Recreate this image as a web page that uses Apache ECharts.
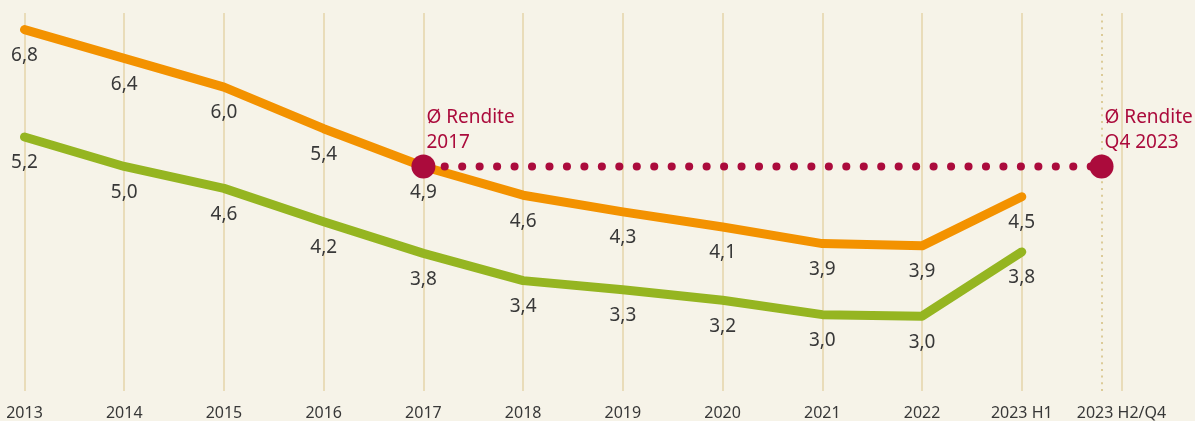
<!DOCTYPE html>
<html>
<head>
<meta charset="utf-8">
<script src="https://cdn.jsdelivr.net/npm/echarts@6/dist/echarts.min.js"></script>
<style>
  html, body { margin: 0; padding: 0; background: #f6f3e8; }
  #chart { width: 1195px; height: 421px; }
</style>
</head>
<body>
<div id="chart"></div>
<script>
const categories = ['2013', '2014', '2015', '2016', '2017', '2018', '2019', '2020', '2021', '2022', '2023 H1', '2023 H2/Q4'];

// line heights as drawn in the picture
const orangeValues = [6.78, 6.40, 6.02, 5.47, 4.97, 4.59, 4.37, 4.17, 3.95, 3.92, 4.57];
const greenValues = [5.36, 4.97, 4.68, 4.24, 3.82, 3.46, 3.34, 3.20, 3.01, 2.99, 3.84];

// printed figures
const orangeLabels = ['6,8', '6,4', '6,0', '5,4', '4,9', '4,6', '4,3', '4,1', '3,9', '3,9', '4,5'];
const greenLabels = ['5,2', '5,0', '4,6', '4,2', '3,8', '3,4', '3,3', '3,2', '3,0', '3,0', '3,8'];

// average yield marker: from 2017 to Q4 2023
const avgYield = 4.97;
const avgStartX = 4;
const avgEndX = 10.8;
const avgLabels = ['Ø Rendite\n2017', 'Ø Rendite\nQ4 2023'];

const font = '"Noto Sans", sans-serif';
const textColor = '#383838';
const crimson = '#ab0b3c';

function toPoints(values) {
    return values.map(function (v, i) { return [i, v]; });
}

function lineSeries(values, labels, color) {
    return {
        type: 'line',
        data: toPoints(values),
        symbol: 'circle',
        symbolSize: 1,
        showSymbol: true,
        itemStyle: { color: 'rgba(0,0,0,0)' },
        lineStyle: { color: color, width: 9, cap: 'round', join: 'round' },
        label: {
            show: true,
            position: 'bottom',
            distance: 16,
            fontFamily: font,
            fontSize: 19,
            color: textColor,
            formatter: function (p) { return labels[p.dataIndex]; }
        },
        emphasis: { disabled: true },
        silent: true
    };
}

let chart = echarts.init(document.getElementById('chart'));

let avgLabel = {
    show: true,
    position: [15, -49],
    align: 'left',
    verticalAlign: 'top',
    fontFamily: font,
    fontSize: 19,
    lineHeight: 25,
    color: crimson
};

chart.setOption({
    backgroundColor: '#f6f3e8',
    animation: false,
    grid: { left: 24.5, right: 73.5, top: 13, bottom: 30, containLabel: false, outerBoundsMode: 'none' },
    xAxis: {
        type: 'value',
        min: 0,
        max: categories.length - 1,
        interval: 1,
        axisLine: { show: false },
        axisTick: { show: false },
        splitLine: { show: true, lineStyle: { color: '#e4d5aa', width: 1.5 } },
        axisLabel: {
            margin: 14,
            fontFamily: font,
            fontSize: 16,
            color: textColor,
            formatter: function (v) { return categories[v] || ''; }
        }
    },
    yAxis: {
        type: 'value',
        min: 2,
        max: 7,
        show: false
    },
    series: [
        Object.assign(lineSeries(greenValues, greenLabels, '#95b521'), {
            markLine: {
                silent: true,
                symbol: 'none',
                label: { show: false },
                lineStyle: { color: '#dccb98', width: 2, type: [2, 4.7] },
                data: [{ xAxis: avgEndX }]
            }
        }),
        lineSeries(orangeValues, orangeLabels, '#f39200'),
        {
            type: 'line',
            silent: true,
            data: [
                { value: [avgStartX, avgYield], label: Object.assign({ formatter: avgLabels[0] }, avgLabel) },
                { value: [avgEndX, avgYield], label: Object.assign({ formatter: avgLabels[1] }, avgLabel) }
            ],
            symbol: 'circle',
            symbolSize: 24,
            showSymbol: true,
            itemStyle: { color: crimson },
            lineStyle: { color: crimson, width: 8, cap: 'round', type: [0.1, 17.36], dashOffset: -3.8 },
            emphasis: { disabled: true },
            z: 5
        }
    ]
});
</script>
</body>
</html>
